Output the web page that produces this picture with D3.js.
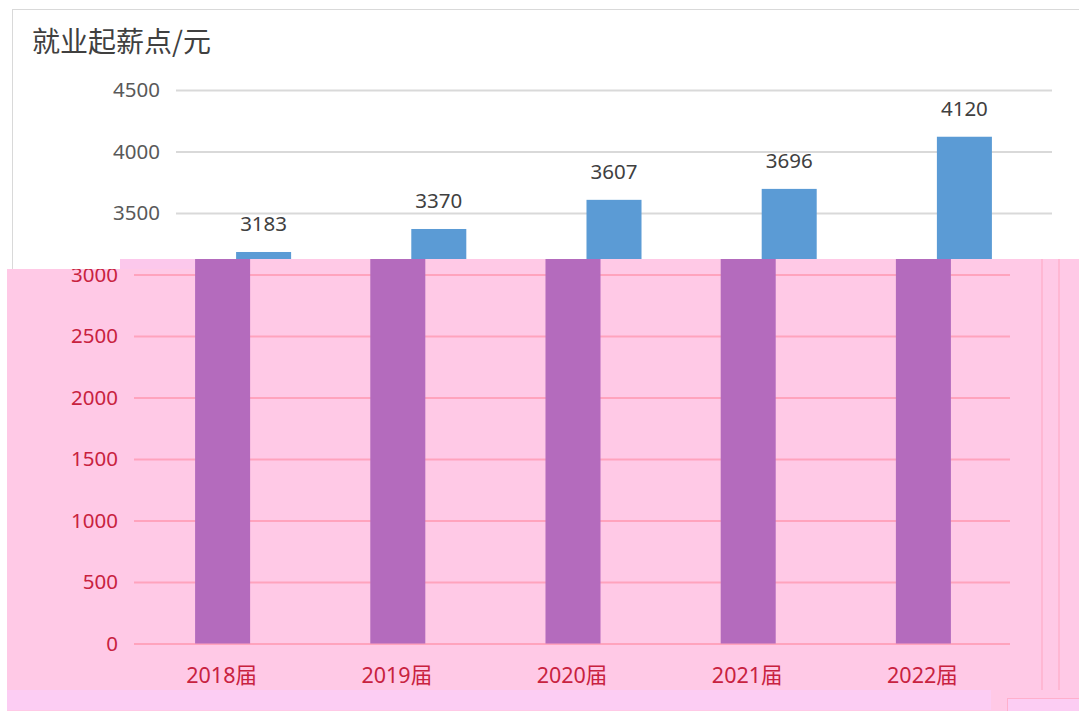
<!DOCTYPE html>
<html>
<head>
<meta charset="utf-8">
<script src="https://cdn.jsdelivr.net/npm/d3@7"></script>
<style>
  body { margin: 0; background: #fff; }
  text { font-family: "Noto Sans", "Noto Sans CJK SC", sans-serif; }
</style>
</head>
<body>
<div id="chart"></div>
<script>
var categories = ["2018届", "2019届", "2020届", "2021届", "2022届"];
var salaries = [3183, 3370, 3607, 3696, 4120];
var yTicks = [0, 500, 1000, 1500, 2000, 2500, 3000, 3500, 4000, 4500];
var title = "就业起薪点/元";

var w = 1079;
var h = 711;
var shift = -42; // the lower tinted copy is offset to the left
var cut = 3250;  // value where the tinted part takes over

var svg = d3.select("#chart")
  .append("svg")
  .attr("width", w)
  .attr("height", h);

var xscale = d3.scaleBand()
  .domain(categories)
  .range([176, 1052])
  .paddingInner(0.686)
  .paddingOuter(0.343);

var yscale = d3.scaleLinear()
  .domain([0, 4500])
  .range([643.5, 90]);

// plain chart (upper part)
svg.append("rect")
  .attr("x", 12.5).attr("y", 9.5)
  .attr("width", w).attr("height", h)
  .style("fill", "#fff")
  .style("stroke", "#d9d9d9");

svg.append("text")
  .attr("x", 32).attr("y", 52)
  .style("font-family", "'Noto Sans CJK SC'")
  .style("font-size", "28px")
  .style("fill", "#404040")
  .text(title);

function makeAxis(ticks) {
  return d3.axisLeft(yscale)
    .tickValues(ticks)
    .tickFormat(d3.format("d"))
    .tickSize(-(1052 - 176))
    .tickPadding(16);
}

var gy = svg.append("g")
  .attr("transform", "translate(176,0)")
  .call(makeAxis(yTicks.filter(function(v) { return v > cut; })));
gy.select(".domain").remove();
gy.selectAll(".tick line").style("stroke", "#d9d9d9").style("stroke-width", 2);
gy.selectAll(".tick text").style("font-size", "20.5px").style("fill", "#595959");

svg.selectAll(".bar")
  .data(salaries)
  .enter().append("rect")
  .attr("class", "bar")
  .attr("x", function(d, i) { return xscale(categories[i]); })
  .attr("width", xscale.bandwidth())
  .attr("y", function(d) { return yscale(d); })
  .attr("height", function(d) { return yscale(0) - yscale(d); })
  .style("fill", "#5b9bd5");

svg.selectAll(".val")
  .data(salaries)
  .enter().append("text")
  .attr("class", "val")
  .attr("x", function(d, i) { return xscale(categories[i]) + xscale.bandwidth() / 2; })
  .attr("y", function(d) { return yscale(d) - 21; })
  .attr("text-anchor", "middle")
  .style("font-size", "20.5px")
  .style("fill", "#404040")
  .text(function(d) { return d; });

// tinted, shifted copy over the lower part
svg.append("clipPath")
  .attr("id", "lower")
  .append("path")
  .attr("d", "M7,269 L120,269 L120,259 L" + w + ",259 L" + w + "," + h + " L7," + h + " Z");

var low = svg.append("g").attr("clip-path", "url(#lower)");

low.append("rect")
  .attr("x", 0).attr("y", 0)
  .attr("width", w).attr("height", h)
  .style("fill", "#ffc9e6");

low.append("rect")
  .attr("x", 120).attr("y", 259)
  .attr("width", 75).attr("height", 10)
  .style("fill", "#fcc8ec");

low.append("rect")
  .attr("x", 7).attr("y", 690)
  .attr("width", 984).attr("height", 20)
  .style("fill", "#fccdf3");

low.append("rect")
  .attr("x", 1007.5).attr("y", 698.5)
  .attr("width", 100).attr("height", 30)
  .style("fill", "#fccdf3")
  .style("stroke", "#ffb0cc");

[1042, 1059].forEach(function(x) {
  low.append("line")
    .attr("x1", x).attr("x2", x)
    .attr("y1", 259).attr("y2", 690)
    .style("stroke", "#ffb0cc")
    .style("stroke-width", 1.5);
});

var inner = low.append("g").attr("transform", "translate(" + shift + ",0)");

var gy2 = inner.append("g")
  .attr("transform", "translate(176,0)")
  .call(makeAxis(yTicks.filter(function(v) { return v < cut; })));
gy2.select(".domain").remove();
gy2.selectAll(".tick line").style("stroke", "#ffa3bd").style("stroke-width", 2);
gy2.selectAll(".tick text").style("font-size", "20.5px").style("fill", "#c8223f");

inner.selectAll(".pbar")
  .data(salaries)
  .enter().append("rect")
  .attr("class", "pbar")
  .attr("x", function(d, i) { return xscale(categories[i]) + 1; })
  .attr("width", xscale.bandwidth())
  .attr("y", function(d) { return yscale(d); })
  .attr("height", function(d) { return yscale(0) - yscale(d); })
  .style("fill", "#b46bbd");

var xaxis = d3.axisBottom(xscale).tickSize(0).tickPadding(24);
var gx = inner.append("g")
  .attr("transform", "translate(0," + yscale(0) + ")")
  .call(xaxis);
gx.select(".domain").remove();
gx.selectAll(".tick text")
  .style("font-family", "'Noto Sans', 'Noto Sans CJK SC'")
  .style("font-size", "21.5px")
  .style("fill", "#c8223f");
</script>
</body>
</html>
